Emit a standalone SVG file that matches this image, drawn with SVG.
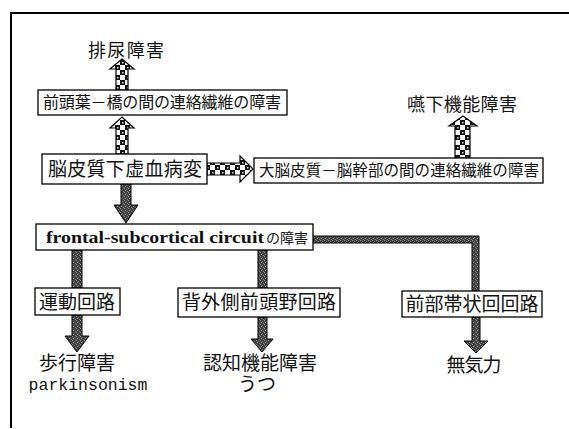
<svg xmlns="http://www.w3.org/2000/svg" width="569" height="429" viewBox="0 0 569 429">
<defs>
<pattern id="checker" width="10" height="10" patternUnits="userSpaceOnUse">
<rect width="10" height="10" fill="#fff"/>
<rect x="0" y="0" width="5" height="5" fill="#111"/>
<rect x="5" y="5" width="5" height="5" fill="#111"/>
<rect x="2" y="2" width="1.5" height="1.5" fill="#ddd"/>
<rect x="7" y="7" width="1.5" height="1.5" fill="#ddd"/>
</pattern>
<pattern id="stipple" width="4" height="4" patternUnits="userSpaceOnUse">
<rect width="4" height="4" fill="#3c3c3c"/>
<rect x="0" y="0" width="1" height="1" fill="#9a9a9a"/>
<rect x="2" y="1" width="1" height="1" fill="#7a7a7a"/>
<rect x="1" y="2" width="1" height="1" fill="#a8a8a8"/>
<rect x="3" y="3" width="1" height="1" fill="#888"/>
</pattern>
</defs>
<style>
.box{fill:#fff;stroke:#000;stroke-width:1.3}
.chk{fill:url(#checker);stroke:#000;stroke-width:1.2}
.gry{fill:url(#stipple);stroke:#000;stroke-width:1}
.jp{font-family:"Liberation Serif","Noto Sans CJK JP",serif;fill:#111}
.lat{font-family:"Liberation Serif",serif;font-weight:bold;fill:#111}
.mono{font-family:"Liberation Mono",monospace;fill:#111}
</style>
<g id="frame">
<line x1="10" y1="13" x2="569" y2="13" stroke="#000" stroke-width="2"/>
<line x1="11" y1="12" x2="11" y2="428" stroke="#000" stroke-width="2"/>
</g>
<g id="connectors">
<polygon class="chk" points="116,90 116,69 110,69 122,59 134,69 128,69 128,90"/>
<polygon class="chk" points="116,154 116,128 110,128 122,117 134,128 128,128 128,154"/>
<polygon class="chk" points="207,163 240,163 240,156 253,169 240,182 240,175 207,175"/>
<polygon class="chk" points="455,158 455,126 449,126 463,116 477,126 470,126 470,158"/>
<polygon class="gry" points="121,184 131,184 131,205 138,205 126,223 114,205 121,205"/>
<polygon class="gry" points="313,236 479,236 479,291 472,291 472,243 313,243"/>
<rect class="gry" x="72" y="250" width="10" height="38"/>
<polygon class="gry" points="72,315 82,315 82,336 89,336 77,352 65,336 72,336"/>
<rect class="gry" x="258" y="250" width="9" height="38"/>
<polygon class="gry" points="258,317 267,317 267,339 273,339 262,352 251,339 258,339"/>
<polygon class="gry" points="472,317 480,317 480,341 488,341 476,353 464,341 472,341"/>
</g>
<g id="n-hainyo">
<text class="jp" x="126" y="57" font-size="18" text-anchor="middle" textLength="76" lengthAdjust="spacing">排尿障害</text>
</g>
<g id="n-zentoyo">
<rect class="box" x="38" y="90" width="249" height="25"/>
<text class="jp" x="162" y="108" font-size="16" text-anchor="middle" textLength="238" lengthAdjust="spacing">前頭葉－橋の間の連絡繊維の障害</text>
</g>
<g id="n-kyoketsu">
<rect class="box" x="42" y="154" width="165" height="30"/>
<text class="jp" x="125" y="176" font-size="19" text-anchor="middle" textLength="154" lengthAdjust="spacing">脳皮質下虚血病変</text>
</g>
<g id="n-daino">
<rect class="box" x="254" y="158" width="289" height="25"/>
<text class="jp" x="399" y="176" font-size="15.5" text-anchor="middle" textLength="280" lengthAdjust="spacing">大脳皮質－脳幹部の間の連絡繊維の障害</text>
</g>
<g id="n-enge">
<text class="jp" x="462" y="111" font-size="18" text-anchor="middle" textLength="110" lengthAdjust="spacing">嚥下機能障害</text>
</g>
<g id="n-frontal">
<rect class="box" x="36" y="224" width="277" height="26"/>
<text class="lat" x="46" y="243" font-size="17" textLength="218" lengthAdjust="spacingAndGlyphs">frontal-subcortical circuit</text>
<text class="jp" x="266" y="243" font-size="14" textLength="42" lengthAdjust="spacing">の障害</text>
</g>
<g id="n-undo">
<rect class="box" x="35" y="288" width="85" height="27"/>
<text class="jp" x="77" y="309" font-size="19" text-anchor="middle" textLength="76" lengthAdjust="spacing">運動回路</text>
</g>
<g id="n-haigaisoku">
<rect class="box" x="178" y="288" width="162" height="29"/>
<text class="jp" x="259" y="309" font-size="19" text-anchor="middle" textLength="154" lengthAdjust="spacing">背外側前頭野回路</text>
</g>
<g id="n-zenbu">
<rect class="box" x="402" y="291" width="140" height="26"/>
<text class="jp" x="472" y="311" font-size="19" text-anchor="middle" textLength="133" lengthAdjust="spacing">前部帯状回回路</text>
</g>
<g id="n-hoko">
<text class="jp" x="77" y="370" font-size="19" text-anchor="middle" textLength="76" lengthAdjust="spacing">歩行障害</text>
<text class="mono" x="88" y="390" font-size="16.5" text-anchor="middle">parkinsonism</text>
</g>
<g id="n-ninchi">
<text class="jp" x="260" y="370" font-size="19" text-anchor="middle" textLength="114" lengthAdjust="spacing">認知機能障害</text>
<text class="jp" x="257" y="391" font-size="19" text-anchor="middle">うつ</text>
</g>
<g id="n-muki">
<text class="jp" x="474" y="372" font-size="19" text-anchor="middle" textLength="55" lengthAdjust="spacing">無気力</text>
</g>
</svg>
